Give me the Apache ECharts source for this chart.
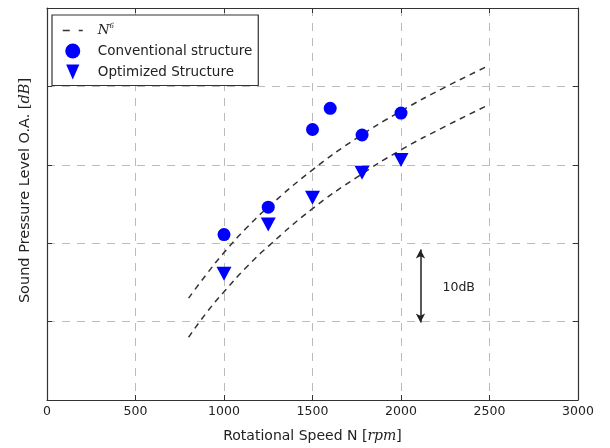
<!DOCTYPE html>
<html>
<head>
<meta charset="utf-8">
<script src="https://cdn.jsdelivr.net/npm/echarts@6/dist/echarts.min.js"></script>
<style>
html,body{margin:0;padding:0;background:#fff;}
#c{width:610px;height:448px;}
</style>
</head>
<body>
<div id="c"></div>
<script>
// ---- data ----
var xTicks = [0, 500, 1000, 1500, 2000, 2500, 3000];
var convN   = [1000, 1250, 1500, 1600, 1780, 2000];
var convSPL = [21.1, 24.6, 34.5, 37.2, 33.8, 36.6];
var optN    = [1000, 1250, 1500, 1780, 2000];
var optSPL  = [16.1, 22.4, 25.8, 29.0, 30.6];
var curveN     = [800, 900, 1000, 1125, 1250, 1500, 1750, 2000, 2250, 2500];
var curveUpper = [13.0, 16.0, 18.8, 21.9, 24.6, 29.35, 33.4, 36.85, 39.9, 42.7];
var curveLower = [8.0, 11.1, 13.8, 16.9, 19.6, 24.4, 28.4, 31.9, 34.9, 37.7];
var arrowN = 2110;
var arrowRange = [9.9, 19.2];
var arrowLabel = '10dB';
var arrowLabelPos = [2326, 14.3];

function pairs(xs, ys) { return xs.map(function (x, i) { return [x, ys[i]]; }); }

var frame = '#333';
var gridCol = '#bbbbbb';
var serifIt = { fontFamily: 'DejaVu Serif', fontStyle: 'italic', fontSize: 14, color: '#222' };
var serif = { fontFamily: 'DejaVu Serif', fontSize: 14, color: '#222' };

var chart = echarts.init(document.getElementById('c'), null, { renderer: 'canvas' });

var axisCommon = {
  type: 'value',
  axisLine: { show: true, onZero: false, lineStyle: { color: frame, width: 1.2 } },
  axisTick: { show: true, inside: true, length: 5, lineStyle: { color: frame, width: 1 } }
};

var option = {
  backgroundColor: '#fff',
  animation: false,
  grid: { left: 47, right: 32, top: 8, bottom: 48, containLabel: false },
  legend: {
    orient: 'vertical',
    left: 52, top: 15,
    padding: [8, 6, 6, 10],
    itemGap: 6,
    itemWidth: 20, itemHeight: 15,
    backgroundColor: '#fff',
    borderColor: frame, borderWidth: 1.2, borderRadius: 0,
    lineStyle: { type: [7, 9], width: 1.5 },
    data: [
      { name: 'N6', itemStyle: { color: 'rgba(0,0,0,0)', borderColor: 'rgba(0,0,0,0)' } },
      { name: 'Conventional structure' },
      { name: 'Optimized Structure', icon: 'path://M0,0 L14,0 L7,16 Z' }
    ],
    formatter: function (name) {
      if (name === 'N6') return '{n|N}{s|6}';
      return name;
    },
    textStyle: {
      fontFamily: 'DejaVu Sans', fontSize: 13.5, color: '#222', padding: [0, 0, 0, 10],
      rich: {
        n: { fontFamily: 'DejaVu Serif', fontStyle: 'italic', fontSize: 13.5, color: '#222' },
        s: { fontFamily: 'DejaVu Serif', fontStyle: 'italic', fontSize: 7, color: '#222', padding: [0, 0, 8, 0] }
      }
    }
  },
  xAxis: [
    Object.assign({}, axisCommon, {
      position: 'bottom', min: xTicks[0], max: xTicks[xTicks.length - 1], interval: 500,
      axisLabel: { fontFamily: 'DejaVu Sans', fontSize: 12.5, color: '#222', margin: 5,
        formatter: function (v) { return String(v); } },
      splitLine: { show: true, lineStyle: { type: [8, 7], color: gridCol, width: 1 } },
      name: '{t|Rotational Speed N }{b|[}{i|rpm}{b|]}',
      nameLocation: 'middle', nameGap: 29,
      nameTextStyle: {
        rich: {
          t: { fontFamily: 'DejaVu Sans', fontSize: 14, color: '#222' },
          b: serif, i: serifIt
        }
      }
    }),
    Object.assign({}, axisCommon, {
      position: 'top', min: xTicks[0], max: xTicks[xTicks.length - 1], interval: 500,
      axisLabel: { show: false }, splitLine: { show: false }
    })
  ],
  yAxis: [
    Object.assign({}, axisCommon, {
      position: 'left', min: 0, max: 50, interval: 10,
      axisLabel: { show: false },
      splitLine: { show: true, lineStyle: { type: [8, 7], color: gridCol, width: 1 } },
      name: '{t|Sound Pressure Level O.A. }{b|[}{i|dB}{b|]}',
      nameLocation: 'middle', nameGap: 14, nameRotate: 90,
      nameTextStyle: {
        padding: [0, 0, 0, 27],
        rich: {
          t: { fontFamily: 'DejaVu Sans', fontSize: 14.5, color: '#222' },
          b: { fontFamily: 'DejaVu Serif', fontSize: 14.5, color: '#222' },
          i: { fontFamily: 'DejaVu Serif', fontStyle: 'italic', fontSize: 14.5, color: '#222' }
        }
      }
    }),
    Object.assign({}, axisCommon, {
      position: 'right', min: 0, max: 50, interval: 10,
      axisLabel: { show: false }, splitLine: { show: false }
    })
  ],
  series: [
    {
      name: 'N6', type: 'line', smooth: true, symbol: 'none',
      data: pairs(curveN, curveUpper),
      lineStyle: { color: frame, width: 1.5, type: [6, 5] },
      itemStyle: { color: frame },
      z: 2
    },
    {
      name: 'N6', type: 'line', smooth: true, symbol: 'none',
      data: pairs(curveN, curveLower),
      lineStyle: { color: frame, width: 1.5, type: [6, 5] },
      itemStyle: { color: frame },
      z: 2,
      markLine: {
        silent: true,
        symbol: ['arrow', 'arrow'], symbolSize: [7, 9],
        lineStyle: { color: '#222', width: 1.5, type: 'solid' },
        label: { show: false },
        data: [[{ coord: [arrowN, arrowRange[0]] }, { coord: [arrowN, arrowRange[1]] }]]
      },
      markPoint: {
        silent: true,
        symbol: 'circle', symbolSize: 0,
        label: { show: true, position: 'inside', formatter: arrowLabel, fontFamily: 'DejaVu Sans', fontSize: 12.5, color: '#222' },
        data: [{ coord: arrowLabelPos }]
      }
    },
    {
      name: 'Conventional structure', type: 'scatter',
      symbol: 'circle', symbolSize: 13,
      data: pairs(convN, convSPL),
      itemStyle: { color: '#0000ff', opacity: 1 },
      z: 3
    },
    {
      name: 'Optimized Structure', type: 'scatter',
      symbol: 'triangle', symbolRotate: 180, symbolSize: [15, 14],
      data: pairs(optN, optSPL),
      itemStyle: { color: '#0000ff', opacity: 1 },
      z: 3
    }
  ]
};
chart.setOption(option);
</script>
</body>
</html>
